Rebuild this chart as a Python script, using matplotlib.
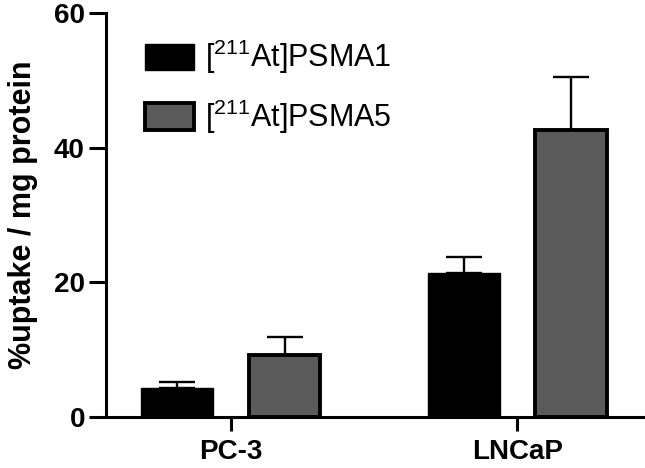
import matplotlib
matplotlib.use("Agg")
import matplotlib.pyplot as plt
import numpy as np

plt.rcParams['font.family'] = ['Liberation Sans', 'DejaVu Sans']
plt.rcParams['mathtext.fontset'] = 'custom'
plt.rcParams['mathtext.rm'] = 'Liberation Sans'
plt.rcParams['mathtext.default'] = 'regular'

categories = ["PC-3", "LNCaP"]
series_names = [r"[$^{211}$At]PSMA1", r"[$^{211}$At]PSMA5"]
psma1_mean = [4.3, 21.35]
psma1_err = [0.9, 2.45]
psma5_mean = [9.25, 42.6]
psma5_err = [2.65, 7.95]
yticks = [0, 20, 40, 60]

fig = plt.figure(figsize=(6.45, 4.68), dpi=100)
ax = fig.add_axes([0.164, 0.109, 0.836, 0.8625])

x = np.arange(len(categories))
w = 0.25
off = 0.1875

ax.bar(x - off, psma1_mean, w, color='black', edgecolor='black', linewidth=1,
       label=series_names[0], zorder=3)
ax.bar(x + off, psma5_mean, w, color='#5a5a5a', edgecolor='black', linewidth=2.8,
       label=series_names[1], zorder=3)
ax.errorbar(x - off, psma1_mean, yerr=[np.zeros(len(x)), psma1_err], fmt='none',
            ecolor='black', elinewidth=1.7, capsize=13, capthick=1.7, zorder=2)
ax.errorbar(x + off, psma5_mean, yerr=[np.zeros(len(x)), psma5_err], fmt='none',
            ecolor='black', elinewidth=1.7, capsize=13, capthick=1.7, zorder=2)

ax.set_xlim(-0.436, 1.445)
ax.set_ylim(0, 60)
ax.set_yticks(yticks)
ax.set_xticks(x)
ax.set_xticklabels(categories)

for s in ['top', 'right']:
    ax.spines[s].set_visible(False)
for s in ['left', 'bottom']:
    ax.spines[s].set_linewidth(2.2)

ax.tick_params(axis='y', length=12, width=2.2, pad=3, labelsize=20)
ax.tick_params(axis='x', length=10, width=2.2, pad=6, labelsize=20)
for lab in ax.get_xticklabels() + ax.get_yticklabels():
    lab.set_fontweight('bold')

ax.set_ylabel("%uptake / mg protein", fontsize=22, fontweight='bold')
ax.yaxis.set_label_coords(-0.126, 0.5)

leg = ax.legend(loc='upper left', bbox_to_anchor=(145 / 645, 1 - 38 / 468),
                bbox_transform=fig.transFigure, frameon=False, fontsize=22,
                handlelength=1.6, handleheight=0.95, handletextpad=0.35,
                labelspacing=0.7, borderpad=0, borderaxespad=0)

fig.savefig("out.png", dpi=100)
